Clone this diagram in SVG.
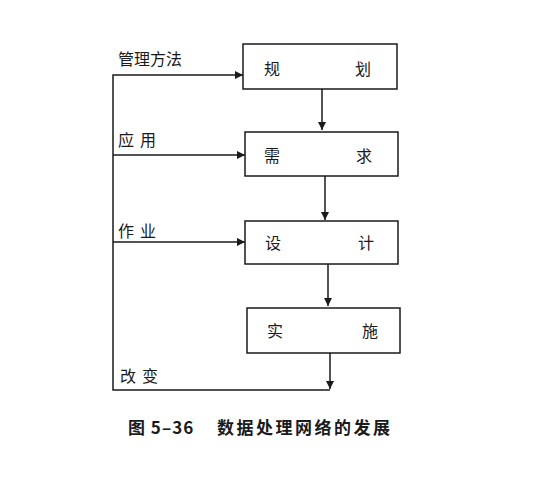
<svg xmlns="http://www.w3.org/2000/svg" width="536" height="478" viewBox="0 0 536 478">
<defs>
<marker id="ah" viewBox="0 0 10 10" refX="10" refY="5" markerWidth="10" markerHeight="8" markerUnits="userSpaceOnUse" orient="auto">
<path d="M0,0 L10,5 L0,10 Z" fill="#1a1a1a"/>
</marker>
<style>
.box{fill:#fff;stroke:#1a1a1a;stroke-width:1.5}
.ln{fill:none;stroke:#1a1a1a;stroke-width:1.5}
.t{font-family:"Noto Sans CJK SC","Noto Sans",sans-serif;font-size:16px;fill:#1a1a1a}
.cap{font-family:"Noto Sans CJK SC","Liberation Sans",sans-serif;font-size:17px;font-weight:bold;fill:#1a1a1a}
</style>
</defs>
<rect width="536" height="478" fill="#fff"/>
<g id="connectors">
<path class="ln" d="M322,89 L322,130" marker-end="url(#ah)"/>
<path class="ln" d="M325,176 L325,220" marker-end="url(#ah)"/>
<path class="ln" d="M328,264 L328,306" marker-end="url(#ah)"/>
<path class="ln" d="M330,353 L330,389" marker-end="url(#ah)"/>
<path class="ln" d="M330,390 L113,390 L113,75 L243,75" marker-end="url(#ah)"/>
<path class="ln" d="M113,155 L245,155" marker-end="url(#ah)"/>
<path class="ln" d="M113,242 L245,242" marker-end="url(#ah)"/>
<text class="t" x="118" y="65">管理方法</text>
<text class="t" x="118" y="146" letter-spacing="6">应用</text>
<text class="t" x="118" y="237" letter-spacing="6">作业</text>
<text class="t" x="120" y="382" letter-spacing="6">改变</text>
</g>
<g id="n1">
<rect class="box" x="243" y="44" width="154" height="45"/>
<text class="t" x="264" y="75">规</text>
<text class="t" x="355" y="75">划</text>
</g>
<g id="n2">
<rect class="box" x="245" y="132" width="153" height="44"/>
<text class="t" x="264" y="162">需</text>
<text class="t" x="356" y="162">求</text>
</g>
<g id="n3">
<rect class="box" x="245" y="221" width="153" height="43"/>
<text class="t" x="265" y="249">设</text>
<text class="t" x="358" y="249">计</text>
</g>
<g id="n4">
<rect class="box" x="247" y="308" width="153" height="45"/>
<text class="t" x="267" y="337">实</text>
<text class="t" x="362" y="337">施</text>
</g>
<g id="caption">
<text class="cap" x="128" y="434" letter-spacing="1">图 5–36</text>
<text class="cap" x="217" y="434" letter-spacing="2.5">数据处理网络的发展</text>
</g>
</svg>
